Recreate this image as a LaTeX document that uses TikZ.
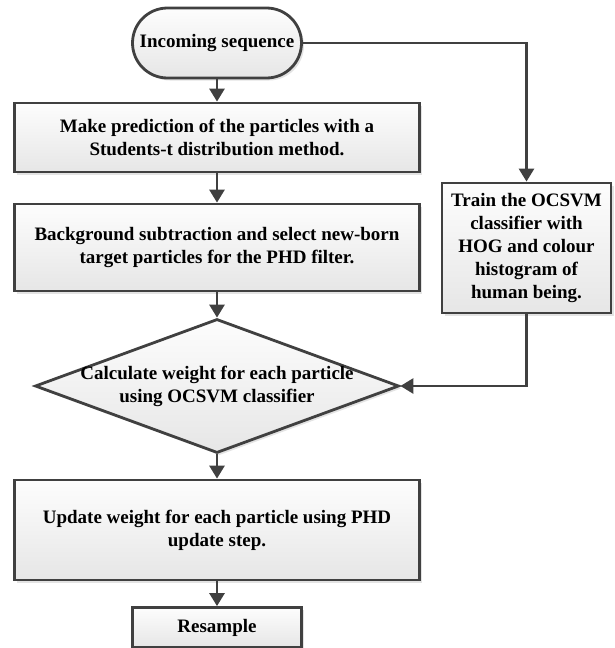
\documentclass[tikz,border=0pt]{standalone}
\usepackage{fontspec}
\setmainfont{Liberation Serif}
\usepackage{xcolor}
\usepackage{tikz}
\usetikzlibrary{arrows.meta,shapes.geometric,shadows,positioning}
\definecolor{cLine}{HTML}{404040}
\definecolor{cFillT}{HTML}{FDFDFD}
\definecolor{cFillB}{HTML}{E6E6E6}

\begin{document}
\begin{tikzpicture}[x=1pt,y=-1pt,
  box/.style={draw=cLine,line width=2.8pt,top color=cFillT,bottom color=cFillB,
    drop shadow={opacity=0.22,shadow xshift=2.5pt,shadow yshift=-2.5pt},
    font=\bfseries\fontsize{19}{23}\selectfont,align=center,inner sep=2pt},
  term/.style={box,rounded corners=35pt,minimum width=169pt,minimum height=70pt},
  dec/.style={box,diamond,aspect=2.72,inner sep=-24pt,minimum width=364pt,
    minimum height=134pt},
  arr/.style={draw=cLine,line width=2.8pt,-{Triangle[length=13pt,width=15pt]}}]

  \useasboundingbox (0,0) rectangle (615,648);

  \node[term] (seq) at (217,43) {Incoming sequence};
  \node[box,minimum width=405pt,minimum height=69pt] (pred) at (217,137.5)
    {Make prediction of the particles with a\\Students-t distribution method.};
  \node[box,minimum width=405pt,minimum height=87pt] (bgsub) at (217,247.5)
    {Background subtraction and select new-born\\target particles for the PHD filter.};
  \node[box,minimum width=169pt,minimum height=130pt] (train) at (526.5,248)
    {Train the OCSVM\\classifier with\\HOG and colour\\histogram of\\human being.};
  \node[dec] (weight) at (217,386)
    {Calculate weight for each particle\\using OCSVM classifier};
  \node[box,minimum width=405pt,minimum height=100pt] (update) at (217,530)
    {Update weight for each particle using PHD\\update step.};
  \node[box,minimum width=169pt,minimum height=40pt] (resample) at (217,627.5)
    {Resample};

  \foreach \a/\b in {seq/pred,pred/bgsub,bgsub/weight,weight/update,update/resample}
    {\draw[arr] (\a.south) -- (\b.north);}
  \draw[arr] (seq.east) -| (train.north);
  \draw[arr] (train.south) |- (weight.east);
\end{tikzpicture}
\end{document}
